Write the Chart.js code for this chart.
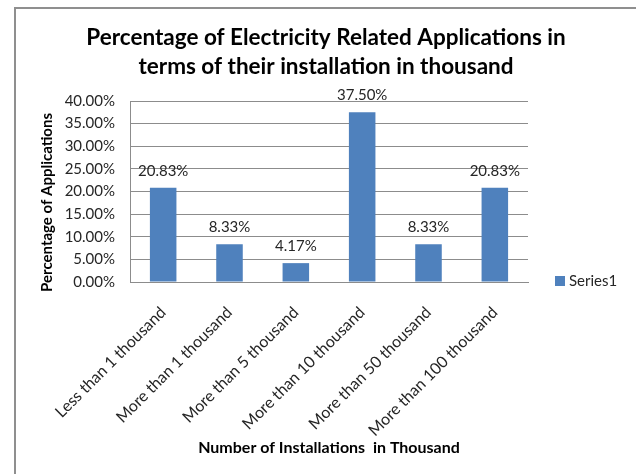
<!DOCTYPE html>
<html>
<head>
<meta charset="utf-8">
<title>Electricity Related Applications</title>
<script src="https://cdn.jsdelivr.net/npm/chart.js@4.4.1/dist/chart.umd.min.js"></script>
<style>
  html, body { margin: 0; padding: 0; background: #fff; overflow: hidden; }
  #wrap { width: 636px; height: 474px; position: relative; }
</style>
</head>
<body>
<div id="wrap"><canvas id="myChart" width="636" height="474"></canvas></div>
<script>
'use strict';

// Chart data
const categories = [
  'Less than 1 thousand',
  'More than 1 thousand',
  'More than 5 thousand',
  'More than 10 thousand',
  'More than 50 thousand',
  'More than 100 thousand'
];
const seriesName = 'Series1';
const percentValues = [20.83, 8.33, 4.17, 37.50, 8.33, 20.83];
const yTicks = [0, 5, 10, 15, 20, 25, 30, 35, 40];

const fontFamily = 'Lato, "Open Sans", sans-serif';
const textColor = '#262626';
const gridColor = '#8c8c8c';
const barColor = '#4f81bd';

function pct(v) {
  return v.toFixed(2) + '%';
}

// Grey frame round the chart
const framePlugin = {
  id: 'frame',
  beforeDraw(chart) {
    const ctx = chart.ctx;
    ctx.save();
    ctx.strokeStyle = '#8f8f8f';
    ctx.lineWidth = 2;
    ctx.beginPath();
    ctx.moveTo(15, chart.height);
    ctx.lineTo(15, 8);
    ctx.lineTo(chart.width, 8);
    ctx.stroke();
    ctx.restore();
  }
};

// Value labels above each bar
const valueLabelPlugin = {
  id: 'valueLabels',
  afterDatasetsDraw(chart) {
    const ctx = chart.ctx;
    ctx.save();
    ctx.font = '15px ' + fontFamily;
    ctx.fillStyle = textColor;
    ctx.textAlign = 'center';
    ctx.textBaseline = 'middle';
    chart.data.datasets.forEach((ds, di) => {
      chart.getDatasetMeta(di).data.forEach((bar, i) => {
        ctx.fillText(pct(ds.data[i]), bar.x, bar.y - 17);
      });
    });
    ctx.restore();
  }
};

// Legend on the right, level with the bottom of the plot
const sideLegendPlugin = {
  id: 'sideLegend',
  afterDraw(chart) {
    const ctx = chart.ctx;
    const area = chart.chartArea;
    const x = area.right + 27;
    const y = area.bottom - 1;
    ctx.save();
    chart.data.datasets.forEach((ds, di) => {
      const rowY = y + di * 20;
      ctx.fillStyle = ds.backgroundColor;
      ctx.fillRect(x, rowY - 5, 10, 10);
      ctx.font = '15px ' + fontFamily;
      ctx.fillStyle = textColor;
      ctx.textAlign = 'left';
      ctx.textBaseline = 'middle';
      ctx.fillText(ds.label, x + 14, rowY);
    });
    ctx.restore();
  }
};

const ctx = document.getElementById('myChart').getContext('2d');

new Chart(ctx, {
  type: 'bar',
  data: {
    labels: categories,
    datasets: [{
      label: seriesName,
      data: percentValues,
      backgroundColor: barColor,
      borderWidth: 0,
      barPercentage: 0.4,
      categoryPercentage: 1
    }]
  },
  options: {
    responsive: false,
    animation: false,
    layout: {
      padding: { left: 16, top: 23, right: 0, bottom: 0 }
    },
    plugins: {
      legend: { display: false },
      tooltip: { enabled: false },
      title: {
        display: true,
        text: [
          'Percentage of Electricity Related Applications in',
          'terms of their installation in thousand'
        ],
        color: '#000',
        font: { family: fontFamily, size: 22.5, weight: 'bold', lineHeight: '29px' },
        padding: { top: 0, bottom: 20 }
      }
    },
    scales: {
      x: {
        grid: { display: false },
        border: { display: true, color: gridColor, width: 1 },
        ticks: {
          color: textColor,
          font: { family: fontFamily, size: 16 },
          minRotation: 45,
          maxRotation: 45,
          padding: 13,
          autoSkip: false
        },
        title: {
          display: true,
          text: 'Number of Installations  in Thousand',
          color: '#000',
          font: { family: fontFamily, size: 16, weight: 'bold', lineHeight: 1.2 },
          padding: { top: 0, bottom: 17 }
        },
        afterFit(scale) {
          scale.height = 192;
        }
      },
      y: {
        min: 0,
        max: 40,
        afterBuildTicks(scale) {
          scale.ticks = yTicks.map(v => ({ value: v }));
        },
        grid: { color: gridColor, drawTicks: false },
        border: { display: true, color: gridColor, width: 1 },
        ticks: {
          color: textColor,
          font: { family: fontFamily, size: 15 },
          padding: 15,
          callback: v => pct(v)
        },
        title: {
          display: true,
          // trailing spaces nudge the rotated title a little lower
          text: 'Percentage of Applications      ',
          color: '#000',
          font: { family: fontFamily, size: 15, weight: 'bold', lineHeight: 1.2 },
          padding: { top: 22, bottom: 0 }
        },
        afterFit(scale) {
          scale.width = 114;
        }
      },
      // empty axis on the right that keeps room for the legend
      legendSpace: {
        type: 'linear',
        position: 'right',
        grid: { display: false },
        border: { display: false },
        ticks: { display: false },
        afterFit(scale) {
          scale.width = 108;
        }
      }
    }
  },
  plugins: [framePlugin, valueLabelPlugin, sideLegendPlugin]
});
</script>
</body>
</html>
